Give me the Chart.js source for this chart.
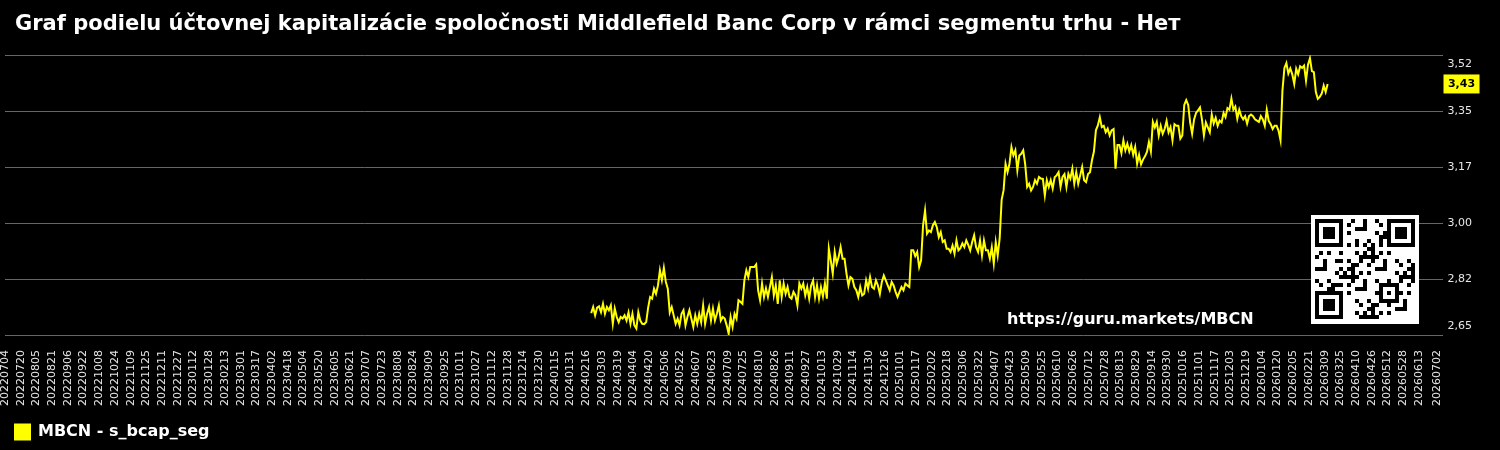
<!DOCTYPE html>
<html>
<head>
<meta charset="utf-8">
<script src="https://cdn.jsdelivr.net/npm/chart.js@4"></script>
<style>
html, body { margin: 0; padding: 0; background: #000; }
#wrap { width: 1500px; height: 450px; }
</style>
</head>
<body>
<div id="wrap"><canvas id="myChart" width="1500" height="450"></canvas></div>
<script>
const chartTitle = "Graf podielu účtovnej kapitalizácie spoločnosti Middlefield Banc Corp v rámci segmentu trhu - Нет";
const seriesName = "MBCN - s_bcap_seg";
const siteUrl = "https://guru.markets/MBCN";

// x axis: one category per calendar day, a label every 16 days + the closing date
const axisStart = "20220704";
const axisEnd = "20260707";
const lastTickLabel = "20260702";
const labelStep = 16;

// series: one value every 2 days from seriesStart
const seriesStart = "20240221";
const seriesStepDays = 2;
const values = [
    2.718, 2.737, 2.711, 2.735, 2.739, 2.721, 2.747, 2.716, 2.737, 2.727,
    2.742, 2.685, 2.732, 2.706, 2.690, 2.706, 2.701, 2.711, 2.695, 2.720,
    2.685, 2.716, 2.680, 2.670, 2.721, 2.695, 2.685, 2.684, 2.690, 2.735,
    2.768, 2.763, 2.794, 2.778, 2.804, 2.851, 2.820, 2.859, 2.815, 2.794,
    2.720, 2.737, 2.711, 2.685, 2.701, 2.680, 2.716, 2.727, 2.680, 2.706,
    2.727, 2.701, 2.675, 2.711, 2.685, 2.716, 2.690, 2.742, 2.685, 2.716,
    2.737, 2.695, 2.732, 2.695, 2.716, 2.742, 2.695, 2.706, 2.701, 2.680,
    2.654, 2.706, 2.675, 2.716, 2.701, 2.758, 2.753, 2.747, 2.820, 2.851,
    2.830, 2.861, 2.861, 2.861, 2.869, 2.789, 2.758, 2.810, 2.768, 2.795,
    2.768, 2.799, 2.830, 2.773, 2.804, 2.747, 2.820, 2.768, 2.810, 2.778,
    2.799, 2.768, 2.763, 2.784, 2.773, 2.742, 2.810, 2.794, 2.810, 2.773,
    2.799, 2.763, 2.804, 2.820, 2.768, 2.804, 2.763, 2.799, 2.770, 2.810,
    2.763, 2.918, 2.882, 2.841, 2.908, 2.872, 2.892, 2.923, 2.887, 2.887,
    2.841, 2.804, 2.830, 2.825, 2.799, 2.789, 2.768, 2.799, 2.773, 2.778,
    2.820, 2.794, 2.830, 2.799, 2.794, 2.820, 2.804, 2.778, 2.815, 2.835,
    2.820, 2.804, 2.789, 2.815, 2.804, 2.784, 2.768, 2.784, 2.799, 2.789,
    2.810, 2.804, 2.799, 2.913, 2.913, 2.895, 2.908, 2.861, 2.882, 2.991,
    3.037, 2.965, 2.975, 2.970, 2.991, 3.001, 2.985, 2.954, 2.970, 2.939,
    2.944, 2.918, 2.918, 2.908, 2.928, 2.903, 2.944, 2.913, 2.920,
    2.935, 2.923, 2.944, 2.930, 2.913, 2.939, 2.960, 2.923, 2.908, 2.944, 2.897,
    2.944, 2.913, 2.913, 2.887, 2.923, 2.872, 2.939, 2.897, 2.950, 3.070,
    3.100, 3.182, 3.156, 3.182, 3.234, 3.208, 3.224, 3.162, 3.208, 3.213,
    3.224, 3.180, 3.110, 3.120, 3.099, 3.110, 3.131, 3.120, 3.141, 3.136,
    3.135, 3.084, 3.131, 3.110, 3.131, 3.105, 3.140, 3.146, 3.156, 3.110,
    3.141, 3.150, 3.110, 3.151, 3.136, 3.167, 3.120, 3.156, 3.120, 3.146,
    3.172, 3.131, 3.125, 3.150, 3.156, 3.193, 3.220, 3.286, 3.301, 3.327,
    3.296, 3.300, 3.280, 3.291, 3.270, 3.286, 3.290, 3.167, 3.240, 3.240,
    3.215, 3.255, 3.224, 3.244, 3.220, 3.240, 3.210, 3.234, 3.182, 3.210,
    3.180, 3.195, 3.205, 3.219, 3.250, 3.220, 3.312, 3.295, 3.312, 3.270,
    3.300, 3.275, 3.290, 3.315, 3.280, 3.296, 3.255, 3.305, 3.300, 3.300,
    3.260, 3.270, 3.365, 3.380, 3.365, 3.310, 3.276, 3.320, 3.340, 3.348,
    3.357, 3.320, 3.270, 3.310, 3.295, 3.280, 3.335, 3.307, 3.325, 3.300,
    3.316, 3.310, 3.340, 3.327, 3.355, 3.350, 3.385, 3.350, 3.360, 3.322,
    3.350, 3.330, 3.320, 3.330, 3.307, 3.330, 3.335, 3.330, 3.320, 3.316,
    3.312, 3.330, 3.320, 3.300, 3.350, 3.315, 3.305, 3.290, 3.300, 3.300,
    3.285, 3.255, 3.410, 3.480, 3.495, 3.462, 3.478, 3.460, 3.430, 3.477,
    3.460, 3.485, 3.480, 3.487, 3.440, 3.490, 3.510, 3.470, 3.467, 3.405,
    3.384, 3.390, 3.400, 3.425, 3.405, 3.430
];

// y axis
const yMin = 2.65;
const yMax = 3.52;
const yTicks = [2.65, 2.824, 2.998, 3.172, 3.346, 3.52];
const yTickLabels = ["2,65", "2,82", "3,00", "3,17", "3,35", "3,52"];

const DAY = 86400000;
function parseDay(s) {
    return Date.UTC(+s.slice(0, 4), +s.slice(4, 6) - 1, +s.slice(6, 8));
}
function fmtDay(t) {
    let d = new Date(t);
    return d.getUTCFullYear() + String(d.getUTCMonth() + 1).padStart(2, "0") + String(d.getUTCDate()).padStart(2, "0");
}

let axisLabels = [];
for (let t = parseDay(axisStart); t <= parseDay(axisEnd); t += DAY) {
    axisLabels.push(fmtDay(t));
}
const lastTickIdx = axisLabels.indexOf(lastTickLabel);
let seriesDates = values.map((v, i) => fmtDay(parseDay(seriesStart) + i * seriesStepDays * DAY));

const FONT = "DejaVu Sans";

function drawQr(ctx, x0, y0) {
    let n = 25, m = 4, q = 4;
    ctx.fillStyle = "#fff";
    ctx.fillRect(x0, y0, n * m + 2 * q, n * m + 2 * q + 1);
    ctx.fillStyle = "#000";
    function inFinder(r, c, fr, fc) {
        return r >= fr && r < fr + 7 && c >= fc && c < fc + 7;
    }
    function finderBit(r, c) {
        let d = Math.max(Math.abs(r - 3), Math.abs(c - 3));
        return d === 3 || d <= 1;
    }
    for (let r = 0; r < n; r++) {
        for (let c = 0; c < n; c++) {
            let on;
            if (inFinder(r, c, 0, 0)) on = finderBit(r, c);
            else if (inFinder(r, c, 0, 18)) on = finderBit(r, c - 18);
            else if (inFinder(r, c, 18, 0)) on = finderBit(r - 18, c);
            else if ((r === 7 && (c < 8 || c > 16)) || (c === 7 && (r < 8 || r > 16))) on = false;
            else if (r >= 16 && r <= 20 && c >= 16 && c <= 20) {
                let d = Math.max(Math.abs(r - 18), Math.abs(c - 18));
                on = d === 2 || d === 0;
            }
            else if (r === 6) on = c % 2 === 0;
            else if (c === 6) on = r % 2 === 0;
            else on = ((r * 7 + c * 13 + (r * c) % 5) % 3) === 0;
            if (on) ctx.fillRect(x0 + q + c * m, y0 + q + r * m, m, m);
        }
    }
}

const extrasPlugin = {
    id: "extras",
    beforeDraw(chart) {
        let ctx = chart.ctx;
        ctx.save();
        ctx.fillStyle = "#000";
        ctx.fillRect(0, 0, chart.width, chart.height);
        ctx.restore();
    },
    afterDraw(chart) {
        let ctx = chart.ctx;
        let area = chart.chartArea;
        let yScale = chart.scales.y;
        ctx.save();
        // title
        ctx.fillStyle = "#fff";
        ctx.font = "bold 21px '" + FONT + "'";
        ctx.textAlign = "left";
        ctx.textBaseline = "middle";
        ctx.fillText(chartTitle, 15, 25);
        // site link + qr
        ctx.font = "bold 16px '" + FONT + "'";
        ctx.fillText(siteUrl, 1007, 320);
        drawQr(ctx, 1311, 215);
        // last value badge
        let last = values[values.length - 1];
        let py = yScale.getPixelForValue(last);
        ctx.fillStyle = "#ffff00";
        ctx.fillRect(area.right + 1, py - 9.5, 36, 19);
        ctx.fillStyle = "#000";
        ctx.font = "bold 11px '" + FONT + "'";
        ctx.textAlign = "center";
        ctx.fillText(last.toFixed(2).replace(".", ","), area.right + 19, py + 0.5);
        ctx.restore();
    }
};

let ctx = document.getElementById("myChart").getContext("2d");
let chart = new Chart(ctx, {
    type: "line",
    data: {
        labels: axisLabels,
        datasets: [{
            label: seriesName,
            data: seriesDates.map((d, i) => ({ x: d, y: values[i] })),
            borderColor: "#ffff00",
            backgroundColor: "#ffff00",
            borderWidth: 2,
            pointRadius: 0,
            tension: 0
        }]
    },
    options: {
        responsive: false,
        animation: false,
        devicePixelRatio: 1,
        layout: { padding: { top: 55, left: 5, right: 23, bottom: 0 } },
        plugins: {
            title: { display: false },
            tooltip: { enabled: false },
            legend: {
                position: "bottom",
                align: "start",
                labels: {
                    color: "#fff",
                    font: { family: FONT, size: 16, weight: "bold" },
                    boxWidth: 15,
                    boxHeight: 15,
                    padding: 10
                }
            }
        },
        scales: {
            x: {
                type: "category",
                grid: { display: false, drawTicks: false },
                border: { display: false },
                afterBuildTicks(scale) {
                    scale.ticks = scale.ticks.filter(t =>
                        (t.value % labelStep === 0 && t.value < lastTickIdx - 8) || t.value === lastTickIdx);
                },
                afterFit(scale) {
                    // keep the label gap but drop the extra room below the labels
                    scale.height -= 7;
                    scale.paddingLeft = 0;
                },
                ticks: {
                    color: "#e6e6e6",
                    font: { family: FONT, size: 11 },
                    minRotation: 90,
                    maxRotation: 90,
                    autoSkip: false,
                    padding: 15
                }
            },
            y: {
                position: "right",
                min: yMin,
                max: yMax,
                grid: { color: "#666", drawTicks: false },
                border: { display: false },
                afterBuildTicks(scale) {
                    scale.ticks = yTicks.map(v => ({ value: v }));
                },
                ticks: {
                    color: "#e6e6e6",
                    font: { family: FONT, size: 11, lineHeight: 1.6 },
                    padding: 5,
                    callback(v, i) {
                        let s = yTickLabels[i];
                        if (i === 0) return [s, ""];
                        if (i === yTickLabels.length - 1) return ["", s];
                        return s;
                    }
                }
            }
        }
    },
    plugins: [extrasPlugin]
});
</script>
</body>
</html>
